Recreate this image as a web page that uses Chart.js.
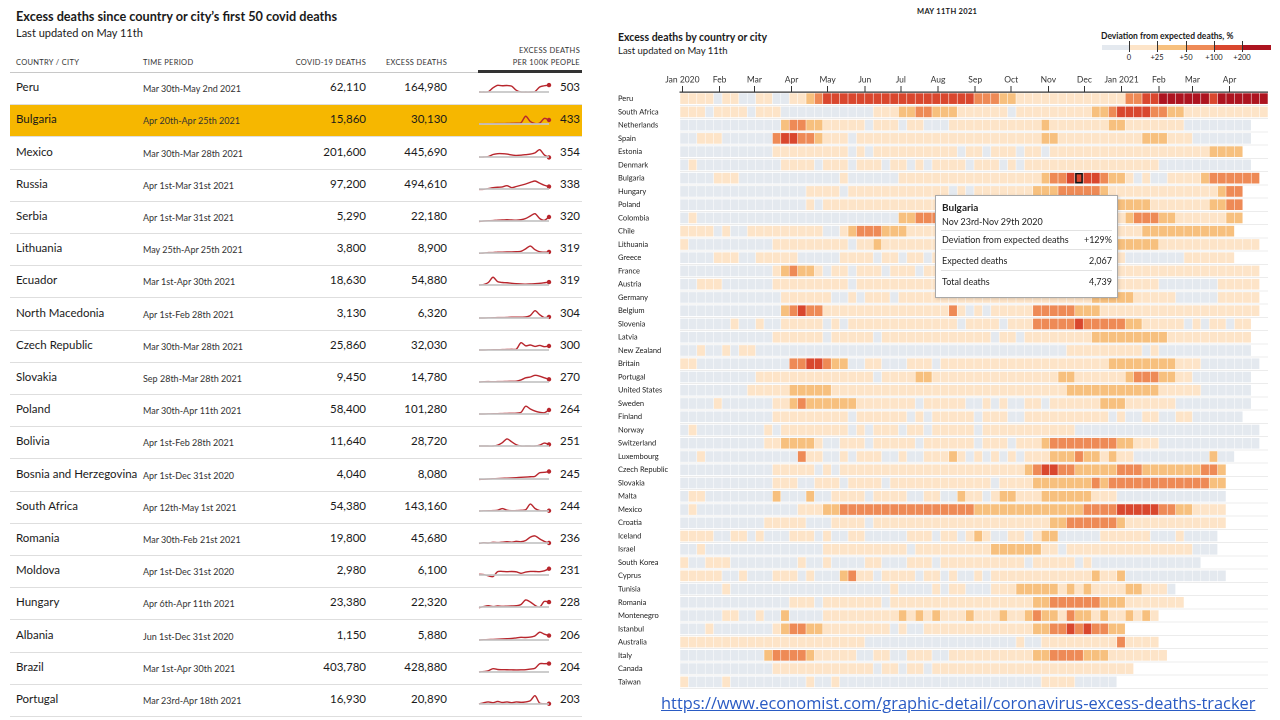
<!DOCTYPE html>
<html>
<head>
<meta charset="utf-8">
<script src="https://cdn.jsdelivr.net/npm/chart.js@4.4.1/dist/chart.umd.min.js"></script>
<style>
  body { margin: 0; width: 1280px; height: 720px; background: #fff; position: relative; overflow: hidden;
         font-family: Lato, 'Noto Sans', sans-serif; color: #1a1a1a; }
  .a { position: absolute; white-space: nowrap; }
  .hdr { font-size: 7.5px; letter-spacing: 0.3px; color: #333; }
  .line { position: absolute; height: 1px; background: #dedede; }
  #tip { position: absolute; background: #fff; border: 1px solid #a9a9a9; box-shadow: 1px 1px 3px rgba(0,0,0,0.15); }
  #tip .r { position: absolute; left: 6px; right: 5px; font-size: 9px; color: #222; }
  #tip .r span { position: absolute; right: 0; }
  #tip .sep { position: absolute; left: 5px; right: 5px; height: 1px; background: #e2e2e2; }
</style>
</head>
<body>

<!-- left table headings -->
<div class="a" style="left:16px;top:8px;font-size:12.7px;font-weight:700;">Excess deaths since country or city’s first 50 covid deaths</div>
<div class="a" style="left:16px;top:26px;font-size:11px;">Last updated on May 11th</div>
<div class="a hdr" style="left:16px;top:58px;">COUNTRY / CITY</div>
<div class="a hdr" style="left:143px;top:58px;">TIME PERIOD</div>
<div class="a hdr" style="right:914px;top:58px;text-align:right;">COVID-19 DEATHS</div>
<div class="a hdr" style="right:833px;top:58px;text-align:right;">EXCESS DEATHS</div>
<div class="a hdr" style="right:700px;top:46px;text-align:right;">EXCESS DEATHS</div>
<div class="a hdr" style="right:700px;top:58px;text-align:right;">PER 100K PEOPLE</div>
<div class="line" style="left:10px;top:72px;width:572px;background:#c8c8c8;"></div>
<div class="a" style="left:478px;top:70px;width:104px;height:3px;background:#333;"></div>
<div id="table"></div>

<!-- right heatmap headings -->
<div class="a" style="left:917px;top:7px;font-size:7.5px;font-weight:700;letter-spacing:0.3px;">MAY 11TH 2021</div>
<div class="a" style="left:618px;top:31px;font-size:10.5px;font-weight:700;">Excess deaths by country or city</div>
<div class="a" style="left:618px;top:45px;font-size:9.5px;">Last updated on May 11th</div>
<div class="a" style="left:1101px;top:31px;font-size:8.5px;font-weight:700;">Deviation from expected deaths, %</div>
<div id="legend"></div>

<canvas id="heat" class="a" style="left:618px;top:66px;" width="650" height="627"></canvas>

<div id="tip" style="left:935px;top:195px;width:181px;height:101px;">
  <div class="r" style="top:5px;font-size:10px;font-weight:700;" id="tipName"></div>
  <div class="r" style="top:20px;" id="tipWeek"></div>
  <div class="sep" style="top:34px;"></div>
  <div class="r" style="top:38px;">Deviation from expected deaths<span id="tipDev"></span></div>
  <div class="sep" style="top:53px;"></div>
  <div class="r" style="top:59px;">Expected deaths<span id="tipExp"></span></div>
  <div class="sep" style="top:74px;"></div>
  <div class="r" style="top:80px;">Total deaths<span id="tipTot"></span></div>
</div>

<div class="a" style="left:661px;top:691px;font-family:'Open Sans',sans-serif;font-size:16.4px;color:#2a5bc4;text-decoration:underline;">https://www.economist.com/graphic-detail/coronavirus-excess-deaths-tracker</div>

<script>
// ---- left table ----
const tblCountries = ['Peru', 'Bulgaria', 'Mexico', 'Russia', 'Serbia', 'Lithuania', 'Ecuador', 'North Macedonia',
  'Czech Republic', 'Slovakia', 'Poland', 'Bolivia', 'Bosnia and Herzegovina', 'South Africa', 'Romania',
  'Moldova', 'Hungary', 'Albania', 'Brazil', 'Portugal'];
const tblPeriods = ['Mar 30th-May 2nd 2021', 'Apr 20th-Apr 25th 2021', 'Mar 30th-Mar 28th 2021', 'Apr 1st-Mar 31st 2021',
  'Apr 1st-Mar 31st 2021', 'May 25th-Apr 25th 2021', 'Mar 1st-Apr 30th 2021', 'Apr 1st-Feb 28th 2021',
  'Mar 30th-Mar 28th 2021', 'Sep 28th-Mar 28th 2021', 'Mar 30th-Apr 11th 2021', 'Apr 1st-Feb 28th 2021',
  'Apr 1st-Dec 31st 2020', 'Apr 12th-May 1st 2021', 'Mar 30th-Feb 21st 2021', 'Apr 1st-Dec 31st 2020',
  'Apr 6th-Apr 11th 2021', 'Jun 1st-Dec 31st 2020', 'Mar 1st-Apr 30th 2021', 'Mar 23rd-Apr 18th 2021'];
const covidDeaths = [62110, 15860, 201600, 97200, 5290, 3800, 18630, 3130, 25860, 9450, 58400, 11640, 4040,
  54380, 19800, 2980, 23380, 1150, 403780, 16930];
const excessDeaths = [164980, 30130, 445690, 494610, 22180, 8900, 54880, 6320, 32030, 14780, 101280, 28720, 8080,
  143160, 45680, 6100, 22320, 5880, 428880, 20890];
const per100k = [503, 433, 354, 338, 320, 319, 319, 304, 300, 270, 264, 251, 245, 244, 236, 231, 228, 206, 204, 203];
// weekly excess trend for the small line in each row (rough reading)
const trends = [
  [0, 0, 0.3, 5, 8, 7.5, 7.8, 7, 2, 0, 0, 0, 0.5, 6, 7.5, 8.3],
  [0, 0.3, 0.2, 0.4, 0.5, 0.5, 0.6, 0.8, 1, 1.5, 9.3, 3, 0.5, 1, 6.7, 4.8],
  [0, 0, 0.5, 3, 4, 4, 3.5, 2.5, 1.9, 2.2, 2.8, 3.5, 5, 8.8, 2.5, -0.5],
  [-0.5, -0.3, 0.5, 1.5, 2.1, 2.5, 4, 1.6, 3, 4.5, 6, 8, 9.6, 7, 4.5, 2.9],
  [-0.5, 0, 0.3, 0.5, 1, 1.2, 1.5, 1.2, 1, 1.5, 3, 6, 8.8, 3, 0.8, 4.8],
  [-0.3, 0, 0.5, 0.5, 1, 1, 1.2, 1.2, 1.5, 2, 5, 8.3, 4, 1.5, 1, 1.3],
  [0, 0.5, 3, 9.3, 4, 3, 2.7, 2, 1.5, 1.3, 1, 1.2, 1.6, 2, 2.7, 3.5],
  [0, 0, 0.2, 0.3, 0.5, 0.5, 0.7, 1, 1, 1, 1.2, 3, 8.8, 4, 0.5, 1.3],
  [0, 0, 0.2, 0.3, 0.3, 0.5, 0.6, 0.8, 1, 8.8, 5, 6, 4.3, 5.5, 4, 4.8],
  [0, 0.3, 0.5, 0.3, 0.5, 0.5, 0.7, 0.8, 1, 2.5, 5, 6, 8, 7, 5, 3.2],
  [0, 0, 0.2, 0.3, 0.4, 0.5, 0.7, 0.8, 1, 2, 9.3, 6, 3.5, 2, 1.5, 4.8],
  [0, 0, 0, 0, 1, 4, 8.5, 5, 1.5, 0, 0, 0, 0, 1, 3.5, 1.9],
  [-0.5, -0.3, 0, 0.3, 0.5, 0.8, 1, 1.3, 1.6, 2, 2.3, 2.7, 3.2, 7.5, 8, 9],
  [0, 0.2, 0.3, 0.5, 1, 2.9, 1, 0.3, 0.5, 0.8, 1.5, 8.3, 3, 0.5, 0.3, 0.3],
  [-0.5, 0.3, 0, 0.8, 0.5, 1, 1.5, 1, 2, 1.5, 3, 7, 8.5, 5, 2, 0],
  [0.8, 0.5, -1, -1.9, 4, 4.3, 4, 4.2, 3.8, 2, 3.5, 4.3, 4.2, 4, 5, 7.5],
  [-0.8, 0.5, 1.5, 0.5, 1.2, 0.8, 1, 1.2, 1.5, 3, 8.5, 6, 2, 0, 6.7, 5.9],
  [0, 0.3, 0.5, 0.7, 1, 1.3, 1.5, 1.8, 2.5, 3.2, 3, 3.5, 5, 9.3, 7, 5.3],
  [0, 0.5, 1.5, 4, 3, 2.8, 2.7, 2.6, 2.5, 2.6, 2.8, 3.5, 4.5, 9.9, 10, 10.1],
  [0, 1.5, 2.5, 1.5, 3, 1.8, 2.5, 1.5, 2.5, 2, 2.5, 4, 10, 1, 0.3, 0.3]
];
const highlightRow = 'Bulgaria';

// ---- heatmap ----
const heatCountries = ['Peru', 'South Africa', 'Netherlands', 'Spain', 'Estonia', 'Denmark', 'Bulgaria', 'Hungary',
  'Poland', 'Colombia', 'Chile', 'Lithuania', 'Greece', 'France', 'Austria', 'Germany', 'Belgium', 'Slovenia',
  'Latvia', 'New Zealand', 'Britain', 'Portugal', 'United States', 'Sweden', 'Finland', 'Norway', 'Switzerland',
  'Luxembourg', 'Czech Republic', 'Slovakia', 'Malta', 'Mexico', 'Croatia', 'Iceland', 'Israel', 'South Korea',
  'Cyprus', 'Tunisia', 'Romania', 'Montenegro', 'Istanbul', 'Australia', 'Italy', 'Canada', 'Taiwan'];
// one digit per week from Dec 30th 2019: 0 below expected, 1 0-25%, 2 25-50%, 3 50-100%, 4 100-200%, 5 over 200%
const heatLevels = [
  '1111 0 11 00 11 00 11 2 3 4444444444 44444444 333 22 1111111111111 33 44 5555554555555',
  '111 0 1111 0 111 00000000000 111 22 33 2 22 111111 0 111111111 22 3 4444 33 22 1111111111',
  '000000000000 2 33 22 11111 0 111 0 11 00 0 11111111111 2 1111111 22 1111111 00000000',
  '00 111 000000 3 44 33 2 111 0 1111111111 111111111111 22 1111111111 222 111 0000000',
  '00000000000 111111111 0 1 0 11111111 11 0 11 0 111 0 11 0 1111111111111111111 2222',
  '0 1 0000000000 1111 0 111 0 111 0 11 0 1 0 1 111 0 111 0 1 0 1111111111111111 00000000000',
  '0000 111 000000000000 1 000000 11111 111111111111 2 33 4444 3 22 1 0 1 00 1111 2 333333',
  '000000000000000 1111 0 11111111111 1 0 1 0 1111111 222 33333 2 1111111111111 2 33',
  '000000000000000 1 0 11111111111111 111111111 2222 33333 222 2222 1111111 22 33',
  '0 1 000000 000000000000000000 22 333 333 222 1111111111111111 2 333 22 111111 22',
  '1111 0 1 00 111111111 00 1 2 333 222 1111 111111111111111111111111 22222222222',
  '1 0000000000 111111111 0 11 2 1111111 1111111111 2222 333333 22 2222 111111111111',
  '0000 111 00 11111 00000 1111 0 11 0 11 0 1 1111111111 222222 111111 0000000 111111',
  '00000000000 1 2 3 22 101101110111011 1111111111 222222 111111 1111111111111111',
  '00 111 000000 111111111 0 1111111111 1111111111 2222222 111111111 0000000 11111',
  '000000000000 111111 00 1 0 111 0 11111 111111111111111111 22222 11111 00000 11111',
  '000000000000 2 3 4 33 11111111111111 1 3 1 0 1 0 11111 33333 222 1111111111111111111',
  '000000 1 00 1 00 11111 0 1 0 11111111111 11 0 1111 0 111 33333 4 33333 22 11111 0 1 0 11011',
  '00000000000 111111 0 11111 0 1111111 111111 0 11 0 11111111 222222222 1111111111',
  '00 1 00 1 0 11 0000000000000000000000 000000000000000 111111111 0 1 00000000000',
  '11 00000000000 33 44 3 22 00110001110 11111111111111111111 22222222 111 0000000',
  '000000000 11111111111111 0 1111 22 1 11111111111111 22 111111 2 333 22 11 0000000',
  '00000000 11111 22222 1111111111111 111111111111111 22222222222 11111 000000',
  '0000 1 000000 11 2 3 222222 1111111 0 11 111 00 1 0 1 00 11 0 111111 222 111111 000000000',
  '00000000000 111111111 0 111111 0 1 0 1 1111 0 111 00 1111111111 0 1 00 11 00 11 000000',
  '0 1 00000000 1 0 11111111 0 1 0 111 0 11 0 1 1111 0 11111111111 0000000000000000000000',
  '0000000000 11 2222 1 00 111 0 11111 0 11 1111 0 111 0 111 2 33333333 22 111 000000000000',
  '00 1 00000000000 3 11 00 1 0 111 00 1 00 11 1 2 1 0 1 0 1 0 1 0 111 222 3 22 1 2 11 000000000 2 00',
  '00000000000 11111 0 1 0 111111111111 1111111111 2 3 44 33 22222 333 2222222 33 2',
  '00000000000 111 00 111 0 1111 0 111111 111111 0 1111 2222222 3 2 333333333333 22',
  '0 11 00000000 2 000 2 00 1111 0 1111 00 11 00 2 11 0 1 22 111 222222 111 0000000000000',
  '0 1 000000000000 111 22 333333333333 3333 2222222222222 3333 44444 33 22 1111',
  '0000000000 11111 000 1111 0 11111111 1111111111111 22 333333 2 111111111111',
  '1111 00 11 0 1 000 111 0 1 00 11 00000 111 0 1101 2 1001101 22 00000 111111 000 1 0000',
  '00 1 00000000000000 1111111111 0 111 111111 222222 11 0 111111111111111 000',
  '1 00 111 00000000 1 00 1 0000 11 000 111 0 1111111111 0 11111 0 1 0000000000000',
  '11111 00 1 000 111 0 1 000 2 3 1101111011 010010 111111111111 2 11 2 000000000000',
  '00000 1 0000000000000000000 1 0000 1 0 11 000 111 22222 1 2 1 2 1111 22 111 0',
  '0000000000000 111 0 1111111 0 111111 11111111111 22 333333 222 1111111',
  '00000 11 00 1 00 2 0000 111111111 2 1 2 1 2 111 2 111 2 11 2 3 22 1 3 22 1 2 11 2 1 2 1',
  '000 1 0000000 1 2 33 22 11111111 0 1 00 11 11111111111 22 33 4 3 4 33 22',
  '1111111111111111111111 000000000 000000000 1 00 111111111 3 1111',
  '0000000000 2 3333 2 11111 00 11 00 111 0 0 1111111111 22 3333 222 1111111',
  '00000000000 111111111111 0 11 0 1101 11111111111111111111111',
  '1 0000 1 000000000 1 00 1 000000000000 000000000000 1111 00000'
];
const heatColors = ['#e4e9ef', '#fde4c8', '#f7c07e', '#ee8a56', '#d9472e', '#ad1420'];
const legendLabels = ['0', '+25', '+50', '+100', '+200'];
const monthLabels = ['Jan 2020', 'Feb', 'Mar', 'Apr', 'May', 'Jun', 'Jul', 'Aug', 'Sep', 'Oct', 'Nov', 'Dec',
  'Jan 2021', 'Feb', 'Mar', 'Apr'];
const monthStarts = ['2020-01-01', '2020-02-01', '2020-03-01', '2020-04-01', '2020-05-01', '2020-06-01',
  '2020-07-01', '2020-08-01', '2020-09-01', '2020-10-01', '2020-11-01', '2020-12-01', '2021-01-01',
  '2021-02-01', '2021-03-01', '2021-04-01'];
const firstWeek = '2019-12-30';
// hovered cell shown in the reference
const tipCountry = 'Bulgaria', tipWeekIndex = 47, tipWeek = 'Nov 23rd-Nov 29th 2020';
const tipDeviation = '+129%', tipExpected = 2067, tipTotal = 4739;

// ---- build left table ----
const ROW0 = 72, ROWH = 32.2;
const table = document.getElementById('table');
function add(html, style) {
  const d = document.createElement('div');
  d.className = 'a';
  d.style.cssText = style;
  d.textContent = html;
  table.appendChild(d);
  return d;
}
tblCountries.forEach((name, i) => {
  const top = ROW0 + i * ROWH, cy = top + ROWH / 2;
  if (name === highlightRow) {
    add('', `left:10px;top:${top + 1}px;width:572px;height:${ROWH - 1}px;background:#f6b700;`);
  }
  const l = document.createElement('div');
  l.className = 'line';
  l.style.cssText = `left:10px;top:${top + ROWH}px;width:572px;`;
  table.appendChild(l);
  add(name, `left:16px;top:${cy - 9}px;font-size:11.5px;line-height:16px;`);
  add(tblPeriods[i], `left:143px;top:${cy - 7}px;font-size:9px;line-height:16px;color:#333;`);
  add(covidDeaths[i].toLocaleString('en-US'), `right:${1280 - 366}px;top:${cy - 9}px;font-size:11.5px;line-height:16px;`);
  add(excessDeaths[i].toLocaleString('en-US'), `right:${1280 - 447}px;top:${cy - 9}px;font-size:11.5px;line-height:16px;`);
  add(String(per100k[i]), `right:${1280 - 580}px;top:${cy - 9}px;font-size:11.5px;line-height:16px;`);

  const cv = document.createElement('canvas');
  cv.className = 'a';
  cv.width = 78; cv.height = 24;
  cv.style.left = '475px'; cv.style.top = (cy - 12) + 'px';
  table.appendChild(cv);
  const series = trends[i];
  new Chart(cv.getContext('2d'), {
    type: 'line',
    data: {
      labels: series.map((_, k) => k),
      datasets: [{
        data: series.map(() => 0),
        borderColor: '#c6c6c6', borderWidth: 1.8, pointRadius: 0
      }, {
        data: series,
        borderColor: '#b8262d', borderWidth: 1.4, tension: 0.3,
        pointRadius: ctx => ctx.dataIndex === series.length - 1 ? 2.2 : 0,
        pointBackgroundColor: '#b8262d', pointBorderWidth: 0
      }]
    },
    options: {
      responsive: false, animation: false, events: [], devicePixelRatio: 2,
      layout: { padding: { left: 3, right: 4 } },
      plugins: { legend: { display: false }, tooltip: { enabled: false } },
      scales: { x: { display: false }, y: { display: false, min: -4.8, max: 14.4 } }
    }
  });
});

// ---- legend ----
const legend = document.getElementById('legend');
const legEdges = [1102, 1129, 1157, 1186, 1214, 1242, 1271];
heatColors.forEach((c, i) => {
  const d = document.createElement('div');
  d.className = 'a';
  d.style.cssText = `left:${legEdges[i]}px;top:45px;width:${legEdges[i + 1] - legEdges[i]}px;height:5px;background:${c};`;
  legend.appendChild(d);
});
legendLabels.forEach((t, i) => {
  const x = legEdges[i + 1];
  const tick = document.createElement('div');
  tick.className = 'a';
  tick.style.cssText = `left:${x}px;top:41px;width:1px;height:11px;background:#333;`;
  legend.appendChild(tick);
  const lab = document.createElement('div');
  lab.className = 'a';
  lab.style.cssText = `left:${x - 20}px;width:40px;text-align:center;top:53px;font-size:7.5px;color:#222;`;
  lab.textContent = t;
  legend.appendChild(lab);
});

// ---- heatmap chart ----
const DAY = 86400000;
const monthWeeks = monthStarts.map(d => (Date.parse(d) - Date.parse(firstWeek)) / DAY / 7);
const cells = [];
heatCountries.forEach((c, i) => {
  heatLevels[i].replace(/ /g, '').split('').forEach((ch, w) => {
    cells.push({ y: c, x: [w + 0.07, w + 0.93], lv: +ch, hl: c === tipCountry && w === tipWeekIndex });
  });
});

new Chart(document.getElementById('heat').getContext('2d'), {
  type: 'bar',
  data: {
    datasets: [{
      data: cells,
      backgroundColor: ctx => heatColors[ctx.raw.lv],
      borderColor: ctx => (ctx.raw && ctx.raw.hl) ? '#111' : 'rgba(0,0,0,0)',
      borderWidth: ctx => (ctx.raw && ctx.raw.hl) ? 1.6 : 0,
      borderSkipped: false,
      barThickness: 10
    }]
  },
  options: {
    indexAxis: 'y', responsive: false, animation: false, events: [], devicePixelRatio: 2,
    layout: { padding: 0 },
    plugins: { legend: { display: false }, tooltip: { enabled: false } },
    scales: {
      x: {
        type: 'linear', position: 'top', min: 0, max: 70,
        afterBuildTicks: s => { s.ticks = monthWeeks.map(v => ({ value: v })); },
        afterFit: s => { s.height = 26; },
        ticks: { autoSkip: false, maxRotation: 0, padding: 1, color: '#333',
                 font: { family: 'Lato', size: 8.5 }, callback: (v, i) => monthLabels[i] },
        grid: { drawOnChartArea: false, tickLength: 6, color: '#333' },
        border: { color: '#333', width: 1.2 }
      },
      y: {
        type: 'category', labels: heatCountries, offset: true,
        afterFit: s => { s.width = 62; },
        ticks: { autoSkip: false, crossAlign: 'far', padding: 0, color: '#222',
                 font: { family: 'Lato', size: 7.5 } },
        grid: { offset: true, drawTicks: false, color: '#ececec' },
        border: { display: false }
      }
    }
  }
});

// ---- tooltip box ----
document.getElementById('tipName').textContent = tipCountry;
document.getElementById('tipWeek').textContent = tipWeek;
document.getElementById('tipDev').textContent = tipDeviation;
document.getElementById('tipExp').textContent = tipExpected.toLocaleString('en-US');
document.getElementById('tipTot').textContent = tipTotal.toLocaleString('en-US');
</script>
</body>
</html>
